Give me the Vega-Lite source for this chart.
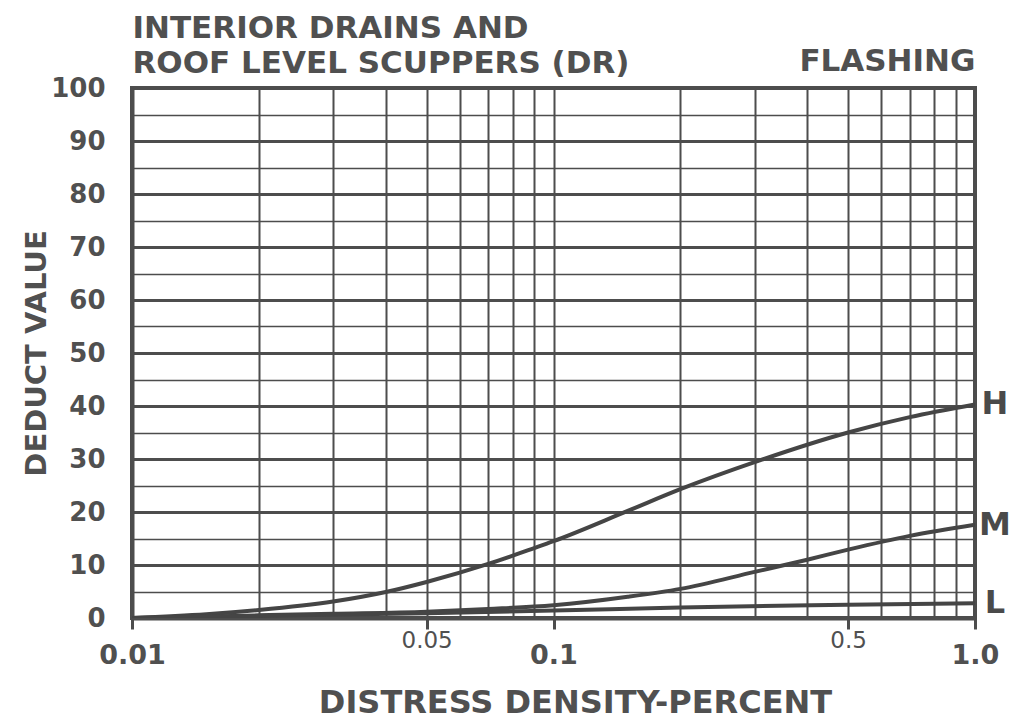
{
  "$schema": "https://vega.github.io/schema/vega-lite/v6.json",
  "width": 843,
  "height": 530,
  "autosize": "none",
  "padding": {"left": 132, "top": 88, "right": 42, "bottom": 105},
  "background": "white",
  "config": {
    "font": "DejaVu Sans",
    "view": {"stroke": "#4d4d4d", "strokeWidth": 4},
    "axis": {"labelColor": "#505050", "titleColor": "#505050", "domainColor": "#4d4d4d", "tickColor": "#4d4d4d", "gridColor": "#4d4d4d", "gridOpacity": 1}
  },
  "data": {
    "values": [
      {"x": 0.01, "deduct": 0, "level": "H"},
      {"x": 0.015, "deduct": 0.7, "level": "H"},
      {"x": 0.02, "deduct": 1.5, "level": "H"},
      {"x": 0.03, "deduct": 3.1, "level": "H"},
      {"x": 0.04, "deduct": 4.9, "level": "H"},
      {"x": 0.05, "deduct": 6.8, "level": "H"},
      {"x": 0.07, "deduct": 10.2, "level": "H"},
      {"x": 0.09, "deduct": 13.2, "level": "H"},
      {"x": 0.1, "deduct": 14.5, "level": "H"},
      {"x": 0.15, "deduct": 20.2, "level": "H"},
      {"x": 0.2, "deduct": 24.3, "level": "H"},
      {"x": 0.3, "deduct": 29.4, "level": "H"},
      {"x": 0.5, "deduct": 35.0, "level": "H"},
      {"x": 0.7, "deduct": 37.9, "level": "H"},
      {"x": 1.0, "deduct": 40.3, "level": "H"},
      {"x": 0.01, "deduct": 0, "level": "M"},
      {"x": 0.02, "deduct": 0.5, "level": "M"},
      {"x": 0.03, "deduct": 0.8, "level": "M"},
      {"x": 0.05, "deduct": 1.2, "level": "M"},
      {"x": 0.07, "deduct": 1.7, "level": "M"},
      {"x": 0.1, "deduct": 2.4, "level": "M"},
      {"x": 0.15, "deduct": 4.0, "level": "M"},
      {"x": 0.2, "deduct": 5.5, "level": "M"},
      {"x": 0.3, "deduct": 8.7, "level": "M"},
      {"x": 0.4, "deduct": 11.0, "level": "M"},
      {"x": 0.5, "deduct": 12.9, "level": "M"},
      {"x": 0.7, "deduct": 15.5, "level": "M"},
      {"x": 1.0, "deduct": 17.6, "level": "M"},
      {"x": 0.01, "deduct": 0, "level": "L"},
      {"x": 0.02, "deduct": 0.4, "level": "L"},
      {"x": 0.05, "deduct": 0.9, "level": "L"},
      {"x": 0.1, "deduct": 1.4, "level": "L"},
      {"x": 0.2, "deduct": 2.0, "level": "L"},
      {"x": 0.5, "deduct": 2.5, "level": "L"},
      {"x": 1.0, "deduct": 2.8, "level": "L"}
    ]
  },
  "layer": [
    {
      "mark": {"type": "line", "color": "#454545", "strokeWidth": 4, "interpolate": "monotone", "clip": true},
      "encoding": {
        "x": {
          "field": "x", "type": "quantitative",
          "scale": {"type": "log", "domain": [0.01, 1]},
          "axis": {
            "orient": "bottom",
            "values": [0.01, 0.02, 0.03, 0.04, 0.05, 0.06, 0.07, 0.08, 0.09, 0.1, 0.2, 0.3, 0.4, 0.5, 0.6, 0.7, 0.8, 0.9, 1],
            "labelExpr": "datum.value === 0.01 ? '0.01' : datum.value === 0.05 ? '0.05' : datum.value === 0.1 ? '0.1' : datum.value === 0.5 ? '0.5' : datum.value === 1 ? '1.0' : ''",
            "grid": true,
            "gridWidth": 2,
            "domain": true,
            "domainWidth": 4,
            "ticks": true,
            "tickSize": 11,
            "tickWidth": 3,
            "tickOpacity": {"condition": {"test": "indexof([0.01, 0.05, 0.1, 0.5, 1], datum.value) >= 0", "value": 1}, "value": 0},
            "labelFontSize": {"condition": {"test": "datum.value === 0.05 || datum.value === 0.5", "value": 23}, "value": 27},
            "labelFontWeight": {"condition": {"test": "datum.value === 0.05 || datum.value === 0.5", "value": "normal"}, "value": "bold"},
            "labelPadding": {"condition": {"test": "datum.value === 0.05 || datum.value === 0.5", "value": 0}, "value": 13},
            "labelBaseline": "top",
            "labelFlush": false,
            "labelOverlap": false,
            "title": "DISTRESS DENSITY-PERCENT",
            "titleFontSize": 32,
            "titleFontWeight": "bold",
            "titleX": 443,
            "titleY": 94,
            "titleAlign": "center",
            "titleBaseline": "alphabetic"
          }
        },
        "y": {
          "field": "deduct", "type": "quantitative",
          "scale": {"domain": [0, 100], "nice": false},
          "axis": {
            "orient": "left",
            "values": [0, 5, 10, 15, 20, 25, 30, 35, 40, 45, 50, 55, 60, 65, 70, 75, 80, 85, 90, 95, 100],
            "labelExpr": "datum.value % 10 === 0 ? datum.label : ''",
            "labelFontSize": 26,
            "labelFontWeight": "bold",
            "labelPadding": 27,
            "ticks": false,
            "tickSize": 0,
            "domain": true,
            "domainWidth": 4,
            "grid": true,
            "gridWidth": {"condition": {"test": "datum.value % 10 === 0", "value": 3}, "value": 1.5},
            "title": "DEDUCT VALUE",
            "titleFontSize": 29,
            "titleFontWeight": "bold",
            "titleAngle": 270,
            "titleX": -87,
            "titleY": 265,
            "titleAlign": "center",
            "titleBaseline": "alphabetic"
          }
        },
        "detail": {"field": "level"}
      }
    },
    {
      "transform": [{"filter": "datum.x === 1"}],
      "mark": {"type": "text", "color": "#4a4a4a", "fontSize": 32, "fontWeight": "bold", "dx": 20, "align": "center", "baseline": "middle"},
      "encoding": {
        "x": {
          "field": "x", "type": "quantitative",
          "axis": {
            "orient": "top",
            "labels": false, "ticks": false, "domain": false, "grid": false,
            "title": ["INTERIOR DRAINS AND", "ROOF LEVEL SCUPPERS (DR)"],
            "titleFontSize": 31,
            "titleFontWeight": "bold",
            "titleLineHeight": 35,
            "titleAnchor": "start",
            "titleAlign": "left",
            "titleX": 0,
            "titleY": -51,
            "titleBaseline": "alphabetic"
          }
        },
        "y": {
          "field": "deduct", "type": "quantitative",
          "axis": {
            "orient": "right",
            "labels": false, "ticks": false, "domain": false, "grid": false,
            "title": "FLASHING",
            "titleFontSize": 31,
            "titleFontWeight": "bold",
            "titleAngle": 0,
            "titleAlign": "right",
            "titleBaseline": "alphabetic",
            "titleX": 0,
            "titleY": -18
          }
        },
        "text": {"field": "level"}
      }
    }
  ],
  "resolve": {"axis": {"x": "independent", "y": "independent"}}
}
